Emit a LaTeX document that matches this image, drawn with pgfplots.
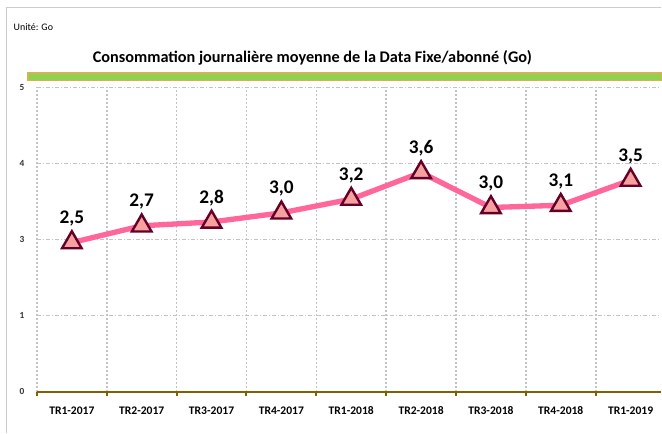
\documentclass[border=0pt]{standalone}
\usepackage{pgfplots}
\pgfplotsset{compat=1.18}
\usepackage{fontspec}
\setmainfont{Carlito}
\definecolor{linepink}{RGB}{255,102,153}
\definecolor{markfill}{RGB}{246,160,160}
\definecolor{markdraw}{RGB}{100,0,40}
\definecolor{axbrown}{RGB}{128,96,0}
\definecolor{barGreen}{RGB}{146,208,80}
\definecolor{barGold}{RGB}{212,180,80}
\definecolor{gridgray}{RGB}{195,195,195}
\begin{document}
\begin{tikzpicture}
\begin{scope}[x=0.75pt,y=-0.75pt]
\useasboundingbox (0,0) rectangle (662,434);
\fill[white] (0,0) rectangle (662,434);
\draw[gray!40, line width=0.9pt] (6.5,434) -- (6.5,7.5) -- (662,7.5);
\node[anchor=west, font=\fontsize{7.5pt}{9pt}\selectfont] at (9,27) {Unité: Go};
\node[font=\bfseries\fontsize{12.2pt}{14pt}\selectfont] at (313,57.5) {Consommation journalière moyenne de la Data Fixe/abonné (Go)};
\filldraw[fill=barGreen, draw=barGold, line width=1.2pt] (28,73) rectangle (663,80.5);
\end{scope}
\begin{axis}[
  at={(27.75pt,-294.5pt)}, anchor=south west,
  scale only axis,
  width=468.75pt, height=229pt,
  xmin=-0.5, xmax=8.43, ymin=0, ymax=4,
  axis lines=none,
  clip=false,
]
% grid
\foreach \yy in {1,2,3,4} {
  \edef\tmp{\noexpand\draw[gridgray, dash pattern=on 3pt off 1.5pt on 0.8pt off 1.5pt, line width=0.6pt] (axis cs:-0.5,\yy) -- (axis cs:8.43,\yy);}
  \tmp
}
\foreach \xx in {-0.5,0.5,1.5,2.5,3.5,4.5,5.5,6.5,7.5} {
  \edef\tmp{\noexpand\draw[gridgray, dash pattern=on 1.5pt off 1.5pt, line width=1.2pt] (axis cs:\xx,0) -- (axis cs:\xx,4);}
  \tmp
}
% y labels
\foreach \yy/\lab in {0/0,1/1,2/3,3/4,4/5} {
  \edef\tmp{\noexpand\node[anchor=east, xshift=-6pt, font=\noexpand\bfseries\noexpand\fontsize{7pt}{8pt}\noexpand\selectfont, text=black!80] at (axis cs:-0.5,\yy) {\lab};}
  \tmp
}
% x axis
\draw[axbrown, line width=2pt] (axis cs:-0.5,0) -- (axis cs:8.43,0);
\foreach \xx in {-0.5,0.5,1.5,2.5,3.5,4.5,5.5,6.5,7.5} {
  \edef\tmp{\noexpand\draw[axbrown, line width=1.5pt] (axis cs:\xx,0) -- ([yshift=-3pt]axis cs:\xx,0);}
  \tmp
}
\foreach \xx/\lab in {0/TR1-2017,1/TR2-2017,2/TR3-2017,3/TR4-2017,4/TR1-2018,5/TR2-2018,6/TR3-2018,7/TR4-2018,8/TR1-2019} {
  \edef\tmp{\noexpand\node[anchor=north, font=\noexpand\bfseries\noexpand\fontsize{8.7pt}{10pt}\noexpand\selectfont] at (axis cs:\xx,0) [yshift=-7.5pt] {\lab};}
  \tmp
}
\addplot[linepink, line width=4pt,
  mark=triangle*, mark size=8.5pt,
  mark options={fill=markfill, draw=markdraw, line width=1.8pt},
  point meta=explicit symbolic,
  nodes near coords,
  every node near coord/.append style={font=\bfseries\fontsize{14.5pt}{16pt}\selectfont, text=black, yshift=8pt},
] table[meta=lab] {
x y lab
0 1.96 {2,5}
1 2.18 {2,7}
2 2.23 {2,8}
3 2.35 {3,0}
4 2.53 {3,2}
5 2.88 {3,6}
6 2.42 {3,0}
7 2.45 {3,1}
8 2.78 {3,5}
};
\end{axis}
\end{tikzpicture}
\end{document}
